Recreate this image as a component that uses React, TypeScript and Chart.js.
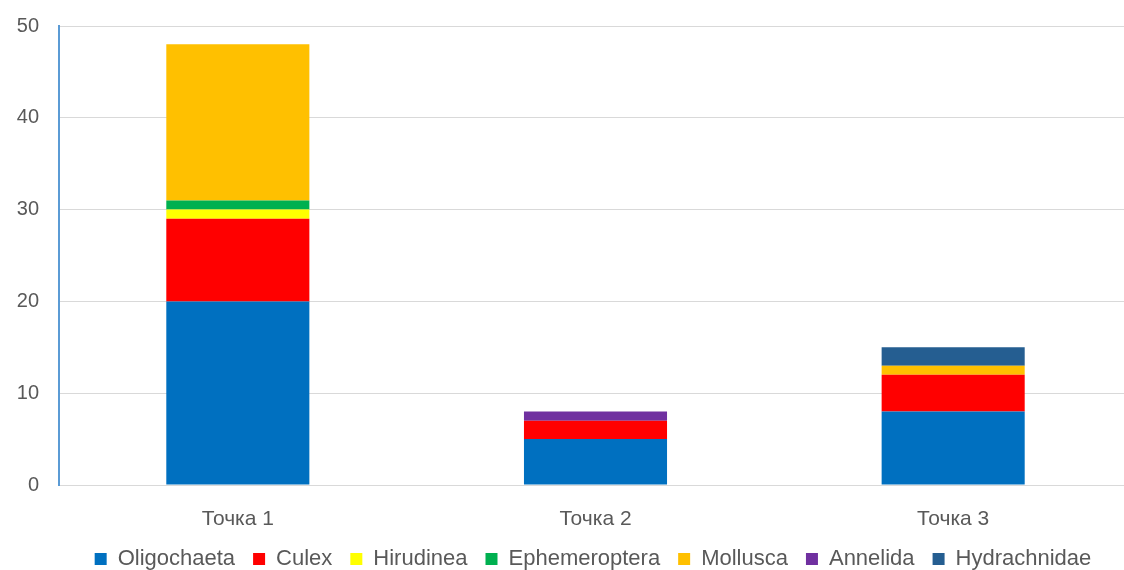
import React, { useEffect, useRef } from "react";
import { Chart, registerables } from "chart.js";

Chart.register(...registerables);

const categories = ["Точка 1", "Точка 2", "Точка 3"];
const seriesNames = ["Oligochaeta", "Culex", "Hirudinea", "Ephemeroptera", "Mollusca", "Annelida", "Hydrachnidae"];
const oligochaeta = [20, 5, 8];
const culex = [9, 2, 4];
const hirudinea = [1, 0, 0];
const ephemeroptera = [1, 0, 0];
const mollusca = [17, 0, 1];
const annelida = [0, 1, 0];
const hydrachnidae = [0, 0, 2];
const seriesColors = ["#0070C0", "#FF0000", "#FFFF00", "#00B050", "#FFC000", "#7030A0", "#255E91"];
const yTicks = [0, 10, 20, 30, 40, 50];

const FONT = "'Liberation Sans', Arial, sans-serif";
const TEXT = "#595959";

const legendShift = {
  id: "legendShift",
  afterLayout(chart: any) {
    if (chart.legend) {
      chart.legend.left += 27;
      chart.legend.right += 27;
    }
  },
};

export default function App() {
  const ref = useRef<HTMLCanvasElement | null>(null);
  useEffect(() => {
    if (!ref.current) return;
    const values = [oligochaeta, culex, hirudinea, ephemeroptera, mollusca, annelida, hydrachnidae];
    const chart = new Chart(ref.current, {
      type: "bar",
      data: {
        labels: categories,
        datasets: seriesNames.map((name, i) => ({
          label: name,
          data: values[i],
          backgroundColor: seriesColors[i],
          borderWidth: 0,
          barPercentage: 0.4,
          categoryPercentage: 1,
        })),
      },
      options: {
        responsive: false,
        animation: false,
        layout: { padding: { top: 26, left: 0, right: 0, bottom: 0 } },
        plugins: {
          tooltip: { enabled: false },
          legend: {
            position: "bottom",
            labels: {
              boxWidth: 12,
              boxHeight: 12,
              padding: 18,
              color: TEXT,
              font: { family: FONT, size: 22 },
            },
          },
        },
        scales: {
          x: {
            stacked: true,
            grid: { display: false, drawTicks: false },
            border: { display: true, color: "#D9D9D9", width: 1 },
            ticks: { color: TEXT, font: { family: FONT, size: 21 }, padding: 22 },
            afterFit: (s: any) => { s.height = 45; s.paddingLeft = 0; s.paddingRight = 0; },
          },
          y: {
            stacked: true,
            min: 0,
            max: 50,
            afterBuildTicks: (s: any) => { s.ticks = yTicks.map((v) => ({ value: v })); },
            grid: { color: "#D9D9D9", lineWidth: 1, drawTicks: false },
            border: { display: true, color: "#5B9BD5", width: 2 },
            ticks: { color: TEXT, font: { family: FONT, size: 20 }, padding: 20 },
            afterFit: (s: any) => { s.width = 59; s.paddingTop = 0; s.paddingBottom = 0; },
          },
        },
      },
      plugins: [legendShift],
    });
    return () => chart.destroy();
  }, []);
  return (
    <div style={{ position: "fixed", left: 0, top: 0, width: 1124, height: 570, overflow: "hidden", background: "#fff" }}>
      <canvas ref={ref} width={1132} height={580} style={{ display: "block" }} />
    </div>
  );
}
